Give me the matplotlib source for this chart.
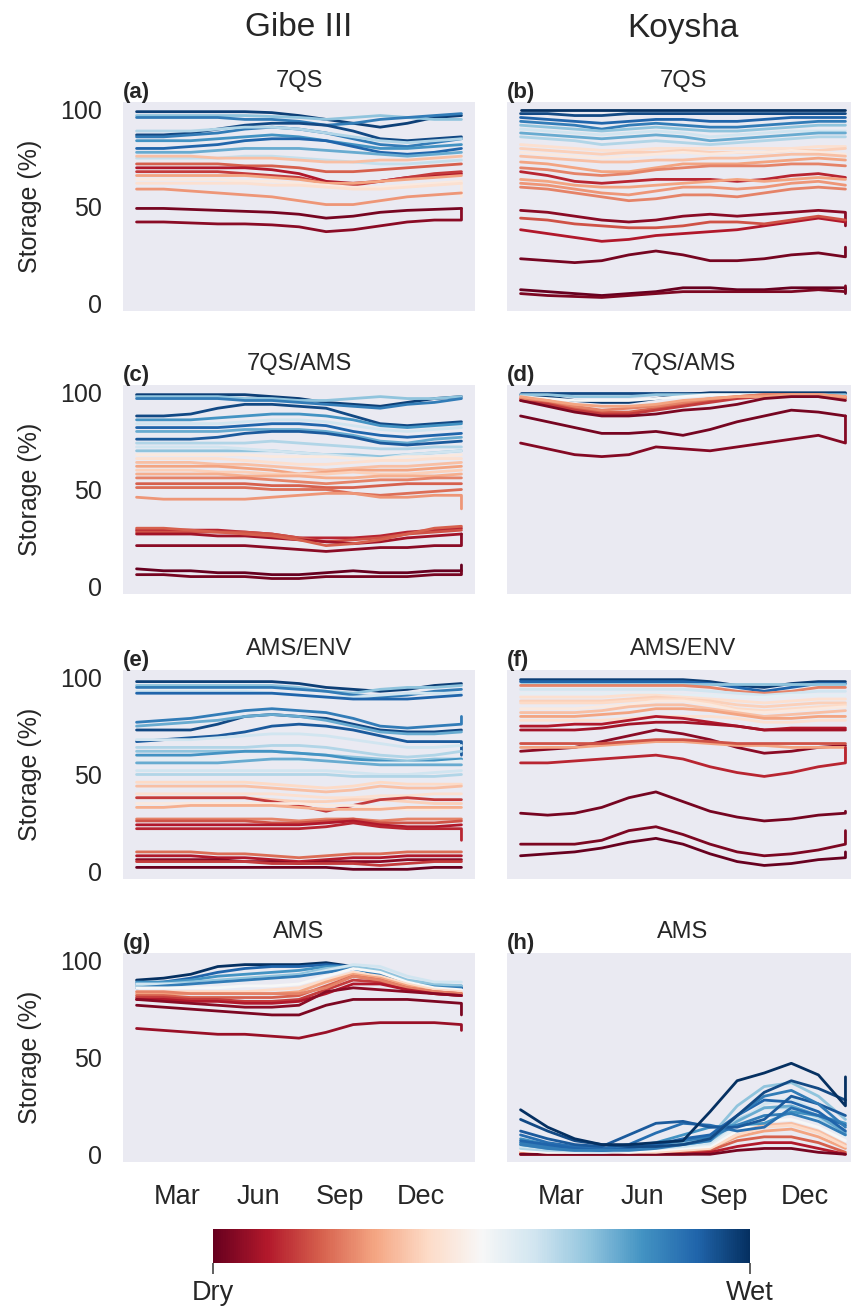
import numpy as np
import matplotlib
matplotlib.use('Agg')
from matplotlib import pyplot as plt
import seaborn as sns

sns.set_style('dark')
plt.rcParams['font.family'] = ['Liberation Sans', 'DejaVu Sans']
plt.rcParams['text.color'] = '#262626'
plt.rcParams['axes.labelcolor'] = '#262626'
plt.rcParams['xtick.color'] = '#262626'
plt.rcParams['ytick.color'] = '#262626'

# month index of each value (0 = mid Jan ... 12 = mid Jan next year)
months = list(range(13))
tick_pos = [1.5, 4.5, 7.5, 10.5]
tick_labels = ['Mar', 'Jun', 'Sep', 'Dec']
reservoirs = ['Gibe III', 'Koysha']

# ---- (a) Gibe III, 7QS ----
a_wet = [0.97, 0.7, 0.85, 0.95, 0.85, 0.65, 0.8, 0.9, 0.75, 0.62,
         0.35, 0.2, 0.1, 0.15, 0.3, 0.45, 0.42, 0.28, 0.02, 0.05]
a_storage = [
    [99, 99, 99, 99, 99, 98.5, 97, 95, 93, 91, 93, 96, 97],
    [97, 97, 97, 97, 97, 96.5, 96, 95, 96, 97, 96, 95, 95],
    [96, 96, 96, 96, 95, 95, 94, 92, 93, 95, 96, 97, 98],
    [87, 87, 88, 90, 92, 93, 93, 92, 89, 85, 84, 85, 86],
    [86, 86, 87, 88, 90, 91, 90, 88, 85, 82, 81, 83, 85],
    [89, 89, 89, 90, 91, 91, 90, 88, 86, 84, 83, 84, 85],
    [84, 84, 84, 85, 86, 87, 86, 84, 82, 80, 80, 81, 82],
    [80, 80, 81, 82, 84, 85, 85, 84, 81, 78, 77, 78, 80],
    [78, 78, 78, 79, 80, 80, 80, 79, 78, 77, 76, 77, 78],
    [75, 75, 75, 75, 76, 76, 75, 74, 73, 72, 72, 73, 74],
    [76, 76, 76, 75, 75, 75, 74, 73, 73, 74, 74, 75, 76],
    [72, 72, 72, 72, 71, 71, 70, 68, 68, 69, 70, 71, 72],
    [70, 70, 70, 70, 70, 69, 67, 63, 62, 63, 65, 66, 67],
    [68, 68, 68, 68, 67, 66, 65, 62, 61, 63, 65, 67, 68],
    [66, 66, 66, 66, 66, 65, 64, 62, 62, 63, 64, 65, 66],
    [64, 64, 64, 64, 63, 63, 62, 61, 60, 60, 61, 62, 63],
    [62, 62, 62, 62, 62, 61, 61, 60, 59, 59, 60, 61, 62],
    [59, 59, 58, 57, 56, 55, 53, 51, 51, 53, 55, 56, 57],
    [49, 49, 48.5, 48, 47.5, 47, 46, 44, 45, 47, 48, 48.5, 49],
    [42, 42, 41.5, 41, 41, 40.5, 39.5, 37, 38, 40, 42, 43, 43],
]
a_end = {15: 55, 19: 49}

# ---- (b) Koysha, 7QS ----
b_wet = [1.0, 0.95, 0.9, 0.85, 0.7, 0.6, 0.75, 0.65, 0.42, 0.38, 0.45, 0.35,
         0.3, 0.25, 0.12, 0.3, 0.28, 0.25, 0.05, 0.1, 0.18, 0.02, 0.0, 0.03]
b_storage = [
    [100, 100, 100, 100, 100, 100, 100, 100, 100, 100, 100, 100, 100],
    [98, 98, 97, 97, 98, 98, 98, 98, 98, 98, 98, 98, 98],
    [96, 95, 94, 93, 94, 95, 95, 94, 94, 95, 96, 96, 96],
    [94, 93, 92, 90, 92, 93, 92, 91, 91, 92, 93, 94, 94],
    [92, 91, 90, 89, 90, 91, 90, 89, 89, 90, 91, 92, 92],
    [90, 89, 88, 87, 88, 89, 88, 86, 87, 88, 89, 89, 89],
    [88, 87, 86, 85, 86, 87, 86, 84, 85, 86, 87, 88, 88],
    [86, 85, 84, 82, 83, 84, 83, 82, 83, 84, 85, 86, 86],
    [82, 81, 80, 79, 79, 80, 80, 80, 80, 80, 80, 81, 81],
    [80, 79, 78, 77, 78, 78, 79, 78, 78, 78, 79, 79, 80],
    [78, 77, 76, 75, 76, 77, 78, 77, 78, 78, 79, 78, 77],
    [76, 75, 74, 73, 73, 74, 74, 75, 75, 76, 77, 77, 76],
    [73, 72, 70, 68, 68, 70, 72, 72, 72, 73, 74, 75, 74],
    [70, 69, 67, 66, 67, 69, 70, 71, 71, 71, 72, 72, 71],
    [68, 66, 63, 62, 63, 64, 64, 64, 63, 64, 66, 67, 65],
    [64, 63, 61, 60, 60, 61, 62, 63, 64, 63, 64, 65, 64],
    [62, 61, 59, 57, 56, 58, 60, 60, 59, 60, 62, 63, 61],
    [60, 59, 57, 55, 53, 54, 56, 56, 55, 57, 59, 60, 59],
    [48, 47, 45, 43, 42, 43, 45, 46, 45, 46, 47, 48, 47],
    [38, 36, 34, 32, 33, 35, 36, 37, 38, 40, 42, 44, 42],
    [44, 43, 41, 40, 39, 39, 40, 42, 42, 41, 43, 45, 43],
    [23, 22, 21, 22, 25, 27, 25, 22, 22, 23, 25, 26, 24],
    [7, 6, 5, 4, 5, 6, 8, 8, 7, 7, 8, 8, 8],
    [5, 4, 3.5, 3, 4, 5, 6, 6, 6, 6, 6, 7, 6],
]
b_end = {18: 40, 21: 29, 22: 5, 23: 9}

# ---- (c) Gibe III, 7QS/AMS ----
c_wet = [0.97, 0.7, 0.85, 0.95, 0.8, 0.6, 0.9, 0.75, 0.92, 0.65, 0.7, 0.6,
         0.45, 0.42, 0.35, 0.3, 0.38, 0.32, 0.25, 0.2, 0.22, 0.28,
         0.12, 0.18, 0.08, 0.2, 0.05, 0.0, 0.02]
c_storage = [
    [99, 99, 99, 99, 99, 98, 97, 95, 94, 93, 95, 97, 98],
    [98, 98, 98, 98, 97, 97, 96, 96, 97, 98, 97, 97, 98],
    [97, 97, 97, 97, 96, 96, 95, 94, 93, 92, 94, 95, 97],
    [88, 88, 89, 92, 94, 94, 93, 92, 88, 84, 83, 84, 85],
    [86, 86, 86, 87, 88, 89, 89, 88, 86, 83, 82, 83, 84],
    [84, 84, 84, 84, 85, 86, 86, 85, 83, 81, 80, 81, 82],
    [82, 82, 82, 82, 83, 84, 84, 83, 80, 78, 77, 78, 79],
    [80, 80, 80, 80, 81, 81, 81, 80, 78, 75, 74, 76, 77],
    [76, 76, 76, 77, 79, 80, 80, 79, 77, 74, 73, 74, 75],
    [74, 74, 74, 74, 74, 75, 74, 73, 72, 71, 71, 72, 72],
    [70, 70, 70, 70, 70, 70, 69, 68, 68, 67, 68, 69, 70],
    [72, 72, 72, 72, 71, 70, 69, 68, 67, 66, 68, 69, 70],
    [68, 68, 68, 68, 68, 67, 67, 67, 66, 66, 67, 67, 68],
    [66, 66, 66, 66, 65, 64, 63, 63, 64, 65, 65, 66, 66],
    [64, 64, 64, 63, 63, 62, 61, 60, 61, 62, 62, 63, 64],
    [62, 62, 62, 62, 61, 60, 58, 59, 60, 60, 60, 61, 62],
    [60, 60, 60, 59, 59, 58, 58, 58, 59, 58, 58, 59, 60],
    [58, 58, 58, 58, 57, 57, 57, 56, 56, 57, 57, 57, 58],
    [56, 56, 56, 56, 56, 55, 54, 53, 54, 55, 55, 56, 56],
    [53, 53, 53, 53, 53, 52, 52, 51, 51, 52, 53, 53, 53],
    [51, 51, 51, 51, 51, 50, 50, 50, 48, 47, 48, 49, 50],
    [46, 45, 45, 45, 45, 46, 47, 48, 48, 46, 46, 47, 47],
    [29, 29, 29, 29, 28, 27, 25, 25, 25, 26, 28, 29, 30],
    [28, 28, 28, 28, 28, 27, 25, 23, 24, 25, 27, 28, 29],
    [27, 27, 27, 26, 26, 25, 24, 23, 22, 23, 25, 26, 27],
    [30, 30, 29, 28, 27, 26, 24, 21, 22, 24, 27, 30, 31],
    [21, 21, 21, 21, 21, 20, 19, 18, 19, 20, 20, 21, 21],
    [9, 8, 8, 7, 7, 6, 6, 7, 8, 7, 7, 8, 8],
    [6, 6, 5, 5, 5, 4, 4, 5, 5, 5, 5, 6, 6],
]
c_end = {21: 40, 26: 27, 27: 11, 28: 8}

# ---- (d) Koysha, 7QS/AMS ----
d_wet = [0.95, 0.98, 0.7, 0.5, 0.2, 0.15, 0.25, 0.3, 0.03, 0.02, 0.04]
d_storage = [
    [100, 100, 100, 100, 100, 100, 100, 100, 100, 100, 100, 100, 100],
    [99, 98, 96, 95, 95, 97, 99, 100, 100, 100, 100, 100, 100],
    [99, 99, 98, 98, 98, 99, 99, 99, 99, 99, 99, 99, 99],
    [98, 97, 96, 96, 96, 97, 98, 99, 99, 99, 99, 99, 98],
    [97, 95, 92, 90, 90, 92, 94, 96, 98, 99, 99, 99, 98],
    [96, 94, 91, 89, 89, 91, 93, 95, 97, 98, 98, 98, 97],
    [97, 96, 93, 91, 92, 93, 95, 97, 98, 99, 99, 98, 97],
    [98, 96, 94, 93, 93, 94, 96, 97, 98, 98, 99, 99, 98],
    [96, 93, 90, 88, 88, 89, 91, 92, 94, 97, 98, 98, 96],
    [88, 85, 82, 79, 79, 80, 78, 81, 85, 88, 91, 90, 88],
    [74, 71, 68, 67, 68, 72, 71, 70, 72, 74, 76, 78, 74],
]
d_end = {10: 88}

# ---- (e) Gibe III, AMS/ENV ----
e_wet = [0.97, 0.7, 0.85, 0.6, 0.9, 0.85, 0.95, 0.75, 0.92, 0.6, 0.65, 0.7,
         0.8, 0.55, 0.75, 0.6, 0.65, 0.4, 0.35, 0.42, 0.38, 0.15, 0.45,
         0.32, 0.25, 0.18, 0.1, 0.12, 0.22, 0.1, 0.05, 0.15, 0.0]
e_storage = [
    [98, 98, 98, 98, 98, 98, 97, 95, 94, 93, 94, 96, 97],
    [96, 96, 96, 96, 96, 96, 95, 93, 92, 94, 95, 95, 96],
    [95, 95, 95, 95, 95, 95, 94, 93, 91, 90, 91, 93, 94],
    [93, 93, 93, 93, 93, 92, 91, 90, 90, 91, 92, 92, 92],
    [92, 92, 92, 92, 92, 92, 91, 90, 89, 89, 89, 90, 91],
    [77, 78, 79, 81, 83, 84, 83, 82, 79, 75, 74, 75, 76],
    [73, 73, 73, 76, 80, 81, 80, 79, 76, 73, 72, 72, 73],
    [75, 76, 77, 78, 80, 81, 80, 78, 75, 72, 71, 71, 72],
    [67, 68, 69, 70, 72, 75, 76, 75, 73, 70, 67, 67, 67],
    [68, 68, 68, 69, 70, 71, 71, 70, 68, 66, 64, 64, 65],
    [64, 64, 64, 64, 64, 65, 65, 64, 62, 60, 59, 60, 62],
    [62, 62, 62, 62, 62, 62, 61, 60, 59, 58, 57, 58, 58],
    [60, 60, 60, 61, 62, 62, 61, 60, 58, 57, 56, 57, 58],
    [58, 58, 58, 58, 58, 58, 57, 57, 56, 56, 56, 56, 57],
    [56, 56, 56, 56, 57, 58, 58, 57, 56, 55, 55, 55, 55],
    [52, 52, 52, 52, 52, 52, 52, 52, 51, 50, 50, 51, 52],
    [50, 50, 50, 50, 50, 50, 50, 50, 49, 49, 49, 49, 50],
    [46, 46, 46, 46, 46, 45, 44, 43, 44, 46, 45, 45, 45],
    [44, 44, 44, 44, 44, 43, 42, 41, 42, 44, 43, 43, 44],
    [40, 40, 40, 40, 40, 40, 39, 38, 38, 39, 39, 40, 40],
    [38, 38, 38, 38, 38, 37, 36, 36, 37, 37, 36, 35, 35],
    [38, 38, 38, 38, 38, 36, 34, 31, 34, 37, 38, 37, 37],
    [35, 35, 35, 35, 35, 35, 35, 34, 34, 33, 32, 32, 33],
    [33, 33, 34, 34, 34, 34, 33, 32, 32, 32, 33, 33, 33],
    [27, 27, 27, 27, 27, 27, 26, 27, 27, 26, 27, 27, 27],
    [26, 26, 26, 26, 26, 25, 25, 26, 27, 25, 25, 25, 26],
    [24, 24, 24, 24, 24, 24, 24, 25, 26, 24, 23, 23, 24],
    [22, 22, 22, 22, 22, 22, 22, 23, 25, 23, 22, 22, 22],
    [10, 10, 10, 9, 9, 8, 7, 8, 9, 9, 10, 10, 10],
    [8, 8, 8, 7, 7, 6, 5, 6, 7, 7, 8, 8, 8],
    [6, 6, 6, 6, 5, 5, 4, 5, 5, 5, 6, 6, 6],
    [5, 5, 5, 5, 5, 4, 4, 4, 4, 3, 4, 5, 5],
    [2, 2, 2, 2, 2, 2, 2, 2, 1, 1, 1, 2, 2],
]
e_end = {5: 80, 8: 60, 27: 16}

# ---- (f) Koysha, AMS/ENV ----
f_wet = [0.97, 0.9, 0.7, 0.25, 0.6, 0.55, 0.42, 0.38, 0.4, 0.45, 0.35, 0.3,
         0.42, 0.1, 0.08, 0.05, 0.3, 0.18, 0.12, 0.02, 0.03, 0.0]
f_storage = [
    [99, 99, 99, 99, 99, 99, 99, 98, 96, 95, 97, 98, 98],
    [98, 98, 98, 98, 98, 98, 98, 97, 95, 93, 95, 97, 97],
    [97, 97, 97, 97, 97, 97, 97, 97, 97, 97, 97, 97, 97],
    [96, 96, 96, 96, 96, 96, 96, 95, 93, 92, 93, 95, 95],
    [94, 94, 94, 94, 94, 94, 94, 93, 92, 91, 92, 93, 93],
    [92, 92, 92, 92, 92, 92, 91, 91, 90, 90, 91, 91, 91],
    [90, 90, 90, 90, 91, 91, 90, 89, 88, 87, 88, 89, 89],
    [88, 88, 88, 88, 89, 90, 89, 88, 86, 85, 86, 87, 87],
    [87, 87, 87, 87, 88, 89, 89, 87, 84, 83, 84, 85, 86],
    [84, 84, 84, 85, 86, 88, 88, 86, 83, 82, 83, 84, 85],
    [82, 82, 82, 83, 85, 86, 86, 84, 82, 80, 81, 82, 83],
    [80, 80, 80, 81, 82, 84, 84, 83, 81, 79, 79, 80, 80],
    [78, 78, 78, 78, 79, 80, 80, 80, 79, 77, 77, 78, 78],
    [75, 75, 76, 76, 78, 80, 79, 77, 75, 73, 74, 74, 74],
    [73, 73, 73, 74, 76, 77, 77, 76, 75, 73, 73, 73, 73],
    [62, 63, 64, 67, 70, 73, 71, 68, 64, 61, 62, 64, 65],
    [64, 64, 64, 65, 66, 67, 67, 66, 65, 65, 64, 64, 64],
    [66, 66, 66, 66, 67, 68, 68, 67, 66, 66, 66, 66, 66],
    [56, 56, 57, 58, 59, 60, 58, 54, 51, 49, 51, 54, 56],
    [30, 29, 30, 33, 38, 41, 36, 31, 28, 26, 27, 29, 30],
    [14, 14, 14, 16, 21, 23, 19, 14, 10, 8, 9, 11, 14],
    [8, 9, 10, 12, 15, 17, 14, 9, 5, 3, 4, 6, 7],
]
f_end = {16: 58, 18: 64, 19: 31, 20: 21, 21: 10}

# ---- (g) Gibe III, AMS ----
g_wet = [1.0, 0.9, 0.8, 0.7, 0.6, 0.85, 0.5, 0.4, 0.3, 0.2, 0.15, 0.25,
         0.1, 0.05, 0.03, 0.07]
g_storage = [
    [90, 91, 93, 97, 98, 98, 98, 99, 97, 92, 88, 87, 86],
    [88, 89, 91, 94, 96, 97, 97, 98, 97, 93, 88, 87, 86],
    [89, 89, 90, 92, 93, 94, 95, 97, 97, 94, 89, 87, 87],
    [87, 88, 89, 90, 91, 92, 93, 96, 97, 95, 90, 88, 87],
    [88, 88, 88, 89, 90, 91, 92, 95, 98, 97, 92, 89, 89],
    [86, 87, 88, 89, 90, 91, 92, 94, 96, 93, 88, 86, 86],
    [86, 86, 86, 86, 87, 87, 88, 92, 96, 94, 89, 86, 85],
    [84, 84, 84, 84, 84, 85, 86, 90, 94, 92, 88, 85, 84],
    [83, 83, 83, 83, 83, 83, 84, 89, 93, 91, 87, 84, 83],
    [82, 82, 81, 81, 81, 81, 82, 87, 92, 90, 86, 84, 83],
    [81, 81, 80, 80, 79, 79, 80, 85, 90, 89, 85, 83, 82],
    [84, 84, 83, 83, 83, 83, 83, 86, 92, 90, 86, 84, 83],
    [80, 80, 79, 79, 78, 78, 79, 83, 88, 88, 85, 83, 82],
    [80, 79, 78, 77, 76, 76, 77, 84, 86, 85, 84, 83, 82],
    [77, 76, 75, 74, 73, 72, 72, 77, 80, 80, 80, 79, 78],
    [65, 64, 63, 62, 62, 61, 60, 63, 67, 68, 68, 68, 67],
]
g_end = {14: 72, 15: 64}

# ---- (h) Koysha, AMS ----
h_wet = [0.35, 0.3, 0.2, 0.1, 0.02, 0.4, 0.5, 0.55, 0.65, 0.6, 0.7, 0.75,
         0.8, 0.85, 0.88, 0.9, 0.92, 0.85, 0.95, 1.0]
h_storage = [
    [1, 1, 1, 4, 3, 1, 1, 3, 12, 15, 16, 12, 5],
    [1, 1, 1, 1, 1, 1, 2, 3, 9, 12, 13, 9, 3],
    [0, 0, 0, 0, 0, 0, 1, 2, 7, 9, 9, 6, 1],
    [0, 0, 0, 0, 0, 0, 0, 1, 4, 6, 6, 3, 0],
    [0, 0, 0, 0, 0, 0, 0, 0, 2, 3, 3, 1, 0],
    [2, 1, 1, 2, 1, 1, 2, 3, 10, 14, 15, 11, 4],
    [2, 1, 1, 1, 1, 2, 3, 4, 12, 17, 18, 14, 7],
    [3, 2, 1, 1, 2, 3, 4, 5, 14, 20, 22, 18, 9],
    [3, 2, 2, 2, 3, 4, 5, 6, 18, 24, 24, 19, 10],
    [4, 3, 2, 1, 2, 3, 4, 6, 16, 26, 29, 22, 12],
    [6, 4, 3, 2, 3, 4, 6, 9, 25, 35, 37, 30, 18],
    [5, 3, 2, 2, 3, 4, 5, 7, 17, 24, 25, 20, 11],
    [8, 5, 3, 3, 4, 6, 10, 14, 15, 16, 22, 20, 16],
    [6, 4, 3, 2, 3, 5, 7, 9, 15, 20, 21, 17, 10],
    [10, 6, 4, 3, 5, 11, 16, 15, 12, 14, 24, 20, 15],
    [7, 5, 3, 2, 3, 5, 8, 10, 20, 28, 27, 22, 12],
    [12, 8, 5, 4, 10, 16, 17, 14, 14, 18, 30, 26, 20],
    [5, 3, 2, 2, 2, 3, 5, 7, 20, 30, 33, 26, 14],
    [18, 12, 7, 5, 4, 4, 5, 8, 20, 32, 38, 34, 28],
    [23, 14, 8, 5, 5, 6, 7, 22, 38, 42, 47, 41, 25],
]
h_end = {19: 40}

panels = [
    ('(a)', '7QS', a_wet, a_storage, a_end),
    ('(b)', '7QS', b_wet, b_storage, b_end),
    ('(c)', '7QS/AMS', c_wet, c_storage, c_end),
    ('(d)', '7QS/AMS', d_wet, d_storage, d_end),
    ('(e)', 'AMS/ENV', e_wet, e_storage, e_end),
    ('(f)', 'AMS/ENV', f_wet, f_storage, f_end),
    ('(g)', 'AMS', g_wet, g_storage, g_end),
    ('(h)', 'AMS', h_wet, h_storage, h_end),
]

cmap = plt.get_cmap('RdBu')
W, H = 851, 1312
fig = plt.figure(figsize=(W / 100, H / 100), dpi=100, facecolor='white')

col_left = [123, 507]
row_top = [102, 385, 670, 953]
ax_w, ax_h = 352, 209

for k, (tag, title, wet, storage, end) in enumerate(panels):
    row, col = k // 2, k % 2
    ax = fig.add_axes([col_left[col] / W, 1 - (row_top[row] + ax_h) / H,
                       ax_w / W, ax_h / H])
    ax.set_facecolor('#EAEAF2')
    for s in ax.spines.values():
        s.set_visible(False)
    for i, (c, y) in enumerate(zip(wet, storage)):
        xs = list(months)
        ys = list(y)
        if i in end:
            xs.append(months[-1])
            ys.append(end[i])
        ax.plot(xs, ys, color=cmap(c), lw=2.0, solid_capstyle='round')
    ax.set_xlim(-0.5, 12.5)
    ax.set_ylim(-4, 104)
    ax.set_yticks([0, 50, 100])
    ax.tick_params(length=0, labelsize=18, pad=15)
    if col == 0:
        ax.set_ylabel('Storage (%)', fontsize=18, labelpad=13)
    else:
        ax.set_yticklabels([])
    if row == 3:
        ax.set_xticks(tick_pos)
        ax.set_xticklabels(tick_labels, fontsize=19.5)
        ax.tick_params(axis='x', pad=16)
    else:
        ax.set_xticks([])
    ax.set_title(title, fontsize=17, pad=11)
    ax.text(0.0, 1 + 4 / ax_h, tag, transform=ax.transAxes, fontsize=16,
            fontweight='bold', ha='left', va='baseline')
    if row == 0:
        ax.text(0.5, 1.0 + 74 / ax_h, reservoirs[col], transform=ax.transAxes,
                fontsize=24, ha='center', va='center')

# colour bar: dry -> wet
cax = fig.add_axes([213 / W, 1 - 1263 / H, 537 / W, 34 / H])
sm = plt.cm.ScalarMappable(cmap=cmap, norm=plt.Normalize(0, 1))
cb = fig.colorbar(sm, cax=cax, orientation='horizontal')
cb.outline.set_visible(False)
cb.set_ticks([0, 1])
cb.set_ticklabels(['Dry', 'Wet'])
cax.tick_params(length=8, width=1.2, color='#444444', labelsize=19.5, pad=4)

fig.savefig('out.png', dpi=100)
